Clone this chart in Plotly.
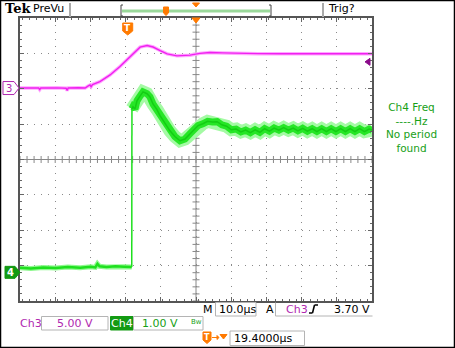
import plotly.graph_objects as go

W, H = 455, 348
GX0, GX1, GY0, GY1 = 20, 372, 18, 301   # graticule pixel box

# ---- scope settings ----
T_PER_DIV = 10.0      # µs / div
T_CENTER = 19.4       # µs at screen centre (trigger at 0)
T_LEFT = T_CENTER - 5 * T_PER_DIV
T_RIGHT = T_CENTER + 5 * T_PER_DIV
CH3_SCALE = 5.0       # V / div
CH3_POS = 2.02        # div
CH4_SCALE = 1.0
CH4_POS = -3.19
TRIG_LEVEL = 3.70     # V on Ch3

# ---- Ch3 (magenta) samples, µs / V ----
ch3_t = [-30.6, -27.0, -25.3, -25.0, -24.7, -20.0, -17.5, -17.2, -16.9, -14.0,
         -12.1, -11.2, -10.7, -10.4, -10.0, -7.9, -5.0, -2.2, -0.2, 1.5,
         3.5, 5.5, 7.2, 9.2, 11.2, 14.0, 17.7, 20.5, 23.4, 27.0,
         31.9, 37.0, 43.3, 50.0, 56.0, 62.0, 69.4]
ch3_v = [0.0, 0.02, 0.0, -0.22, 0.0, 0.03, -0.02, -0.35, 0.0, 0.05,
         0.0, 0.3, 0.43, 0.2, 0.5, 0.9, 1.85, 3.05, 4.0, 4.93,
         5.78, 6.0, 5.8, 5.3, 4.83, 4.55, 4.65, 4.9, 5.02, 4.97,
         4.88, 4.86, 4.84, 4.87, 4.84, 4.85, 4.85]

# ---- Ch4 (green) samples, µs / V ----
ch4_t = [-30.6, -27.5, -24.0, -20.5, -17.0, -13.5, -10.5, -9.2, -8.6, -8.0,
         -6.0, -3.5, -1.0, 1.15, 1.2, 1.5, 2.07, 2.64, 3.49, 4.35,
         5.48, 6.33, 7.18, 8.32, 9.17, 10.6, 12.0, 13.4, 14.85, 16.27,
         17.7, 18.8, 20.0, 21.35, 22.7, 24.05, 25.4, 26.75, 28.1, 29.45,
         30.8, 32.15, 33.5, 34.85, 36.2, 37.55, 38.9, 40.25, 41.6, 42.95,
         44.3, 45.65, 47.0, 48.35, 49.7, 51.05, 52.4, 53.75, 55.1, 56.45,
         57.8, 59.15, 60.5, 61.85, 63.2, 64.55, 65.9, 67.25, 68.6, 69.4]
ch4_v = [0.13, 0.11, 0.14, 0.12, 0.15, 0.13, 0.16, 0.14, 0.24, 0.17,
         0.15, 0.17, 0.16, 0.15, 4.62, 4.68, 4.62, 4.85, 4.98, 5.10,
         5.05, 4.96, 4.76, 4.60, 4.43, 4.20, 4.00, 3.84, 3.72, 3.77,
         3.92, 4.05, 4.15, 4.20, 4.27, 4.25, 4.26, 4.17, 4.13, 4.03,
         4.05, 3.97, 4.02, 3.95, 4.03, 3.96, 4.06, 3.99, 4.08, 4.02,
         4.09, 4.02, 4.08, 4.00, 4.07, 3.99, 4.06, 3.98, 4.06, 3.98,
         4.06, 3.98, 4.06, 3.98, 4.06, 3.98, 4.06, 3.98, 4.05, 4.02]


def fx(x):
    return x / W


def fy(y):
    return 1 - y / H


def t2px(t):
    return GX0 + (t - T_LEFT) / (T_RIGHT - T_LEFT) * (GX1 - GX0)


def d2py(d):
    return GY0 + (4 - d) / 8 * (GY1 - GY0)


fig = go.Figure()

ch3_y = [CH3_POS + v / CH3_SCALE for v in ch3_v]
ch4_y = [CH4_POS + v / CH4_SCALE for v in ch4_v]
i_step = next(k for k in range(1, len(ch4_v)) if ch4_v[k] - ch4_v[k - 1] > 2)

# graticule centre-line ticks
cx_t = [T_LEFT + k * T_PER_DIV / 5 for k in range(51)]
cy_d = [-4 + k * 0.2 for k in range(41)]
fig.add_trace(go.Scatter(x=cx_t, y=[0] * len(cx_t), mode='markers', hoverinfo='skip',
                         marker=dict(symbol='line-ns', size=5, line=dict(width=1, color='#888'))))
fig.add_trace(go.Scatter(x=[T_CENTER] * len(cy_d), y=cy_d, mode='markers', hoverinfo='skip',
                         marker=dict(symbol='line-ew', size=5, line=dict(width=1, color='#888'))))

# Ch3
fig.add_trace(go.Scatter(x=ch3_t, y=ch3_y, mode='lines', hoverinfo='skip',
                         line=dict(color='#ffa8ff', width=3.5)))
fig.add_trace(go.Scatter(x=ch3_t, y=ch3_y, mode='lines', hoverinfo='skip',
                         line=dict(color='#f020f0', width=1.4)))
# Ch4
pre_t, pre_y = ch4_t[:i_step], ch4_y[:i_step]
stp_t, stp_y = ch4_t[i_step - 1:i_step + 1], ch4_y[i_step - 1:i_step + 1]
post_t, post_y = ch4_t[i_step:], ch4_y[i_step:]
fig.add_trace(go.Scatter(x=pre_t, y=pre_y, mode='lines', hoverinfo='skip',
                         line=dict(color='#90f890', width=5)))
fig.add_trace(go.Scatter(x=pre_t, y=pre_y, mode='lines', hoverinfo='skip',
                         line=dict(color='#1ee01e', width=2.5)))
fig.add_trace(go.Scatter(x=stp_t, y=stp_y, mode='lines', hoverinfo='skip',
                         line=dict(color='#1ee01e', width=1.5)))
fig.add_trace(go.Scatter(x=post_t, y=post_y, mode='lines', hoverinfo='skip',
                         line=dict(color='#a4faa4', width=13)))
fig.add_trace(go.Scatter(x=post_t, y=post_y, mode='lines', hoverinfo='skip',
                         line=dict(color='#26e626', width=7)))
fig.add_trace(go.Scatter(x=post_t, y=post_y, mode='lines', hoverinfo='skip',
                         line=dict(color='#14cc14', width=1.5)))

axis_common = dict(showticklabels=False, showline=True, linecolor='#555', linewidth=1.5,
                   mirror='ticks', ticks='inside', ticklen=4, tickcolor='#666', tickwidth=1,
                   showgrid=True, gridcolor='#8a8a8a', gridwidth=1, griddash='1px,6.04px',
                   zeroline=False, fixedrange=True)
fig.update_xaxes(range=[T_LEFT, T_RIGHT], domain=[GX0 / W, GX1 / W], dtick=T_PER_DIV, tick0=T_LEFT,
                 minor=dict(dtick=T_PER_DIV / 5, ticks='inside', ticklen=2, tickcolor='#666', showgrid=False),
                 **axis_common)
fig.update_yaxes(range=[-4, 4], domain=[1 - GY1 / H, 1 - GY0 / H], dtick=1, tick0=-4,
                 minor=dict(dtick=0.2, ticks='inside', ticklen=2, tickcolor='#666', showgrid=False),
                 **axis_common)

shapes = []
# centre lines
shapes.append(dict(type='line', xref='x', yref='y domain', x0=T_CENTER, x1=T_CENTER, y0=0, y1=1,
                   line=dict(color='#888', width=1), layer='below'))
shapes.append(dict(type='line', xref='x domain', yref='y', x0=0, x1=1, y0=0, y1=0,
                   line=dict(color='#888', width=1), layer='below'))


def pline(x0, y0, x1, y1, color='#999', width=1):
    shapes.append(dict(type='line', xref='paper', yref='paper', x0=fx(x0), y0=fy(y0),
                       x1=fx(x1), y1=fy(y1), line=dict(color=color, width=width)))


def prect(x0, y0, x1, y1, line='#b4b4b4', fill=None, width=1):
    shapes.append(dict(type='rect', xref='paper', yref='paper', x0=fx(x0), y0=fy(y0),
                       x1=fx(x1), y1=fy(y1), line=dict(color=line, width=width),
                       fillcolor=fill if fill else 'rgba(0,0,0,0)'))


def ppath(pts, fill, line=None, width=1):
    d = 'M ' + ' L '.join(f'{fx(x):.5f},{fy(y):.5f}' for x, y in pts) + ' Z'
    shapes.append(dict(type='path', xref='paper', yref='paper', path=d, fillcolor=fill,
                       line=dict(color=line if line else fill, width=width)))


annotations = []


def txt(x, y, s, color='black', size=11, xa='left', family='DejaVu Sans'):
    annotations.append(dict(x=fx(x), y=fy(y), xref='paper', yref='paper', text=s, showarrow=False,
                            xanchor=xa, yanchor='middle', font=dict(color=color, size=size, family=family)))


ORANGE = '#ff7a00'
MAG = '#b028b0'
GRN = '#17a017'

# ---- top bar ----
txt(3, 9, '<b>Tek</b>', size=13, family='DejaVu Serif')
txt(31, 9, 'PreVu', size=11)
pline(70, 3, 70, 17, '#aaa', 2)
pline(122, 11, 270, 11, '#9ad89a', 3)
pline(121, 5, 121, 16, '#444', 1)
pline(121, 5, 123, 5, '#444', 1)
pline(121, 16, 123, 16, '#444', 1)
pline(271, 5, 271, 16, '#444', 1)
pline(269, 5, 271, 5, '#444', 1)
pline(269, 16, 271, 16, '#444', 1)
ppath([(163.5, 7), (168.5, 7), (168.5, 13), (166, 15.5), (163.5, 13)], ORANGE)
cx = t2px(T_CENTER)
ppath([(cx - 3.5, 3), (cx + 3.5, 3), (cx, 7)], ORANGE)
pline(323, 3, 323, 17, '#aaa', 2)
txt(326, 9, 'Trig?', size=11)

# ---- graticule markers ----
ppath([(cx - 4, 18), (cx + 4, 18), (cx, 23)], ORANGE)
tx = t2px(0)
ppath([(tx - 5, 23), (tx + 5, 23), (tx + 5, 31), (tx, 35), (tx - 5, 31)], ORANGE)
txt(tx, 28.5, '<b>T</b>', color='white', size=9, xa='center')

y3 = d2py(CH3_POS)
ppath([(3, y3 - 6.5), (14, y3 - 6.5), (19, y3), (14, y3 + 6.5), (3, y3 + 6.5)], 'white', MAG, 1)
txt(8.5, y3, '3', color=MAG, size=10, xa='center')
y4 = d2py(CH4_POS)
ppath([(5, y4 - 6), (15, y4 - 6), (20, y4), (15, y4 + 6), (5, y4 + 6)], '#139a13')
txt(10, y4, '<b>4</b>', color='white', size=10, xa='center')

yt = d2py(CH3_POS + TRIG_LEVEL / CH3_SCALE)
ppath([(365, yt), (370, yt - 3.5), (370, yt + 3.5)], '#8a0a8a')

# ---- right readout ----
txt(411, 127.5, 'Ch4 Freq<br>----.Hz<br>No period<br>found', color=GRN, size=10.5, xa='center')

# ---- bottom readouts ----
txt(201, 309, 'M', size=11)
prect(215.5, 302.5, 256, 316)
txt(217, 309, '10.0µs', size=11)
txt(264, 309, 'A', size=11)
pline(275.5, 302.5, 275.5, 316, '#b4b4b4', 1)
pline(275.5, 316, 372.5, 316, '#b4b4b4', 1)
txt(284, 309, 'Ch3', color=MAG, size=11)
pline(309, 313, 312.5, 313, 'black', 1.5)
pline(312.5, 313, 314.5, 305, 'black', 1.5)
pline(314.5, 305, 318, 305, 'black', 1.5)
txt(372, 309, '3.70 V', size=11, xa='right')

txt(18, 323, 'Ch3', color=MAG, size=11)
prect(41.5, 316.5, 108, 330)
txt(75, 323, '5.00 V', color=MAG, size=11, xa='center')
prect(110.5, 316.5, 133, 330, line='#139a13', fill='#139a13')
txt(122, 323, 'Ch4', color='white', size=11, xa='center')
prect(133.5, 316.5, 203, 330)
txt(160, 323, '1.00 V', color=GRN, size=11, xa='center')
txt(196, 322, 'Bw', color=GRN, size=7, xa='center')

ppath([(203, 332), (211, 332), (211, 340), (207, 343.5), (203, 340)], ORANGE)
txt(207, 337, '<b>T</b>', color='white', size=8, xa='center')
pline(212, 337.5, 217, 337.5, ORANGE, 1)
ppath([(217, 335.5), (217, 339.5), (219, 337.5)], ORANGE)
ppath([(220, 334.5), (227, 334.5), (223.5, 339)], ORANGE)
prect(230, 331, 304.5, 345.5)
txt(232, 338, '19.4000µs', size=11)

# outer frame
prect(0.5, 0.5, 454.5, 347.5, line='black', width=1.5)

fig.update_layout(width=W, height=H, margin=dict(l=0, r=0, t=0, b=0),
                  paper_bgcolor='white', plot_bgcolor='white', showlegend=False,
                  shapes=shapes, annotations=annotations)
fig.write_html('out.html', config={'displayModeBar': False})
